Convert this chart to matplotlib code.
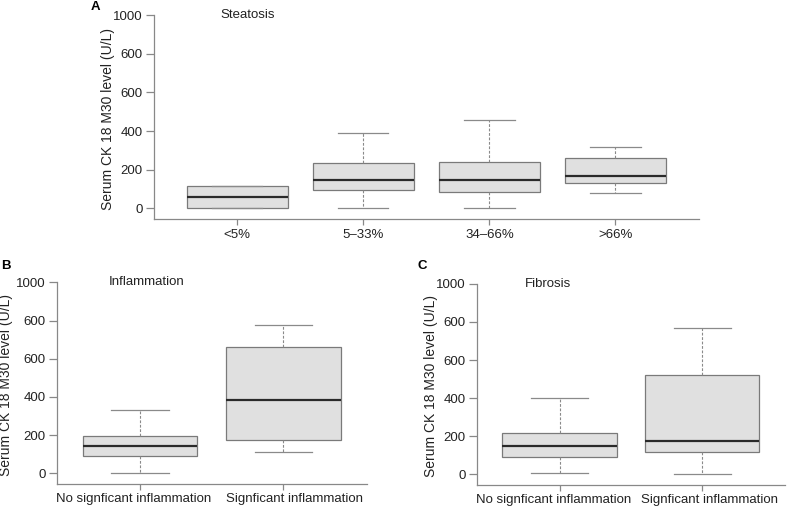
import matplotlib
matplotlib.use("Agg")
import matplotlib.pyplot as plt

plt.rcParams['font.family'] = ['Liberation Sans', 'DejaVu Sans']

# panel A - steatosis
a_labels = ['<5%', '5\u201333%', '34\u201366%', '>66%']
a_med = [57, 147, 145, 169]
a_q1 = [0, 93, 83, 134]
a_q3 = [114, 236, 241, 259]
a_lo = [0, 0, 0, 81]
a_hi = [114, 388, 460, 319]

# panel B - inflammation
b_labels = ['No signficant inflammation', 'Signficant inflammation']
b_med = [140, 381]
b_q1 = [89, 173]
b_q3 = [197, 659]
b_lo = [0, 110]
b_hi = [329, 776]

# panel C - fibrosis
c_labels = ['No signficant inflammation', 'Signficant inflammation']
c_med = [146, 177]
c_q1 = [88, 119]
c_q3 = [214, 519]
c_lo = [4, 0]
c_hi = [398, 770]

yticks = [0, 200, 400, 600, 800, 1000]
ytick_labels = ['0', '200', '400', '600', '600', '1000']

ylabel = 'Serum CK 18 M30 level (U/L)'
axcol = '#888888'
txtcol = '#222222'


def panel(ax, labels, med, q1, q3, lo, hi, title, title_x, ylab_x, label_shift=None):
    stats = []
    for i in range(len(labels)):
        stats.append(dict(med=med[i], q1=q1[i], q3=q3[i], whislo=lo[i],
                          whishi=hi[i], fliers=[]))
    n = len(labels)
    pos = list(range(1, n + 1))
    ax.bxp(stats, positions=pos, widths=0.8, patch_artist=True,
           showfliers=False,
           boxprops=dict(facecolor='#e0e0e0', edgecolor='#7a7a7a', linewidth=0.9),
           medianprops=dict(color='#2a2a2a', linewidth=1.6),
           whiskerprops=dict(color='#8a8a8a', linewidth=0.8, linestyle=(0, (2.5, 1.5))),
           capprops=dict(color='#8a8a8a', linewidth=0.9),
           capwidths=0.4)
    ext = 0.04 * n
    ax.set_xlim(0.5 - ext, n + 0.5 + ext)
    ax.set_ylim(-55, 1000)
    ax.set_xticks(pos)
    if label_shift is None:
        ax.set_xticklabels(labels, fontsize=9.5, color=txtcol)
    else:
        # long labels sit a little apart from the ticks, as in the original
        ax.set_xticklabels([''] * n)
        for p, lab, d in zip(pos, labels, label_shift):
            ax.text(p + d, -0.045, lab, transform=ax.get_xaxis_transform(),
                    fontsize=9.5, color=txtcol, ha='center', va='top')
    ax.set_yticks(yticks)
    ax.set_yticklabels(ytick_labels, fontsize=9.5, color=txtcol)
    ax.set_ylabel(ylabel, fontsize=10, color=txtcol, va='center')
    ax.yaxis.set_label_coords(ylab_x, 0.49)
    for s in ['top', 'right']:
        ax.spines[s].set_visible(False)
    for s in ['left', 'bottom']:
        ax.spines[s].set_color(axcol)
        ax.spines[s].set_linewidth(0.9)
    ax.tick_params(axis='y', length=6, color=axcol, width=0.9, pad=2)
    ax.tick_params(axis='x', length=4, color=axcol, width=0.9, pad=3)
    ax.text(title_x, 1000, title, fontsize=9.5, color=txtcol, va='center', ha='left')


fig = plt.figure(figsize=(7.87, 5.07), dpi=100)

axA = fig.add_axes([0.1957, 0.568, 0.692, 0.402])
panel(axA, a_labels, a_med, a_q1, a_q3, a_lo, a_hi, 'Steatosis', 0.87, -0.084)

axB = fig.add_axes([0.072, 0.046, 0.394, 0.397])
panel(axB, b_labels, b_med, b_q1, b_q3, b_lo, b_hi, 'Inflammation', 0.78, -0.164,
      label_shift=[-0.046, 0.078])

axC = fig.add_axes([0.6057, 0.044, 0.392, 0.396])
panel(axC, c_labels, c_med, c_q1, c_q3, c_lo, c_hi, 'Fibrosis', 0.76, -0.149,
      label_shift=[-0.043, 0.049])

fig.text(0.115, 0.998, 'A', fontsize=9.5, fontweight='bold', va='top', ha='left')
fig.text(0.002, 0.487, 'B', fontsize=9.5, fontweight='bold', va='top', ha='left')
fig.text(0.530, 0.487, 'C', fontsize=9.5, fontweight='bold', va='top', ha='left')

fig.savefig('out.png', dpi=100)
